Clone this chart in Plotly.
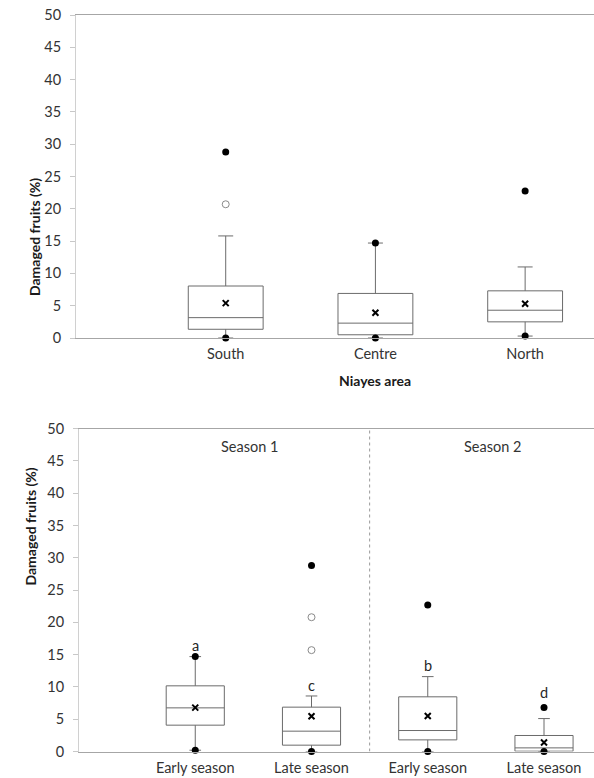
import plotly.graph_objects as go

# ---------------- data ----------------
# Top chart: Niayes area
area_cats = ["South", "Centre", "North"]
area_q1 = [1.35, 0.5, 2.5]
area_median = [3.15, 2.3, 4.3]
area_q3 = [8.05, 6.9, 7.3]
area_low = [0.0, 0.0, 0.3]
area_high = [15.8, 14.7, 11.0]
area_mean = [5.4, 3.9, 5.3]
area_minmax = [[0.0, 28.8], [0.0, 14.7], [0.3, 22.75]]
area_outliers = [[20.7], [], []]

# Bottom chart: seasons
season_cats = ["Early season", "Late season", "Early season", "Late season"]
season_q1 = [4.08, 0.98, 1.8, 0.05]
season_median = [6.76, 3.15, 3.25, 0.56]
season_q3 = [10.17, 6.87, 8.47, 2.48]
season_low = [0.2, 0.0, 0.0, 0.0]
season_high = [14.7, 8.6, 11.6, 5.1]
season_mean = [6.8, 5.47, 5.5, 1.4]
season_minmax = [[0.2, 14.7], [0.0, 28.8], [0.0, 22.7], [0.0, 6.8]]
season_outliers = [[], [15.7, 20.8], [], []]
season_letters = ["a", "c", "b", "d"]
season_letter_y = [16.4, 10.3, 13.3, 9.1]
season_groups = ["Season 1", "Season 2"]

y_ticks = [0, 5, 10, 15, 20, 25, 30, 35, 40, 45, 50]

# ---------------- styling ----------------
W, H = 594, 778
FONT = "Lato"
TICK_COL = "#333333"
BOX_COL = "#6b6b6b"

fig = go.Figure()


def add_panel(xa, ya, q1, med, q3, low, high, mean, minmax, outl):
    xs = list(range(len(q1)))
    fig.add_trace(go.Box(
        x=xs, q1=q1, median=med, q3=q3, lowerfence=low, upperfence=high,
        xaxis=xa, yaxis=ya, width=0.5, whiskerwidth=0.2,
        fillcolor="white", line=dict(color=BOX_COL, width=1),
        boxpoints=False, showlegend=False, hoverinfo="skip"))
    fig.add_trace(go.Scatter(
        x=xs, y=mean, mode="markers", xaxis=xa, yaxis=ya, cliponaxis=False,
        marker=dict(symbol="x-thin", size=6, line=dict(color="black", width=2)),
        showlegend=False, hoverinfo="skip"))
    dx, dy = [], []
    for i, vals in enumerate(minmax):
        for v in vals:
            dx.append(i)
            dy.append(v)
    fig.add_trace(go.Scatter(
        x=dx, y=dy, mode="markers", xaxis=xa, yaxis=ya, cliponaxis=False,
        marker=dict(symbol="circle", size=7, color="black"),
        showlegend=False, hoverinfo="skip"))
    ox, oy = [], []
    for i, vals in enumerate(outl):
        for v in vals:
            ox.append(i)
            oy.append(v)
    fig.add_trace(go.Scatter(
        x=ox, y=oy, mode="markers", xaxis=xa, yaxis=ya, cliponaxis=False,
        marker=dict(symbol="circle-open", size=7, color="#8a8a8a", line=dict(width=1)),
        showlegend=False, hoverinfo="skip"))


add_panel("x", "y", area_q1, area_median, area_q3, area_low, area_high,
          area_mean, area_minmax, area_outliers)
add_panel("x2", "y2", season_q1, season_median, season_q3, season_low, season_high,
          season_mean, season_minmax, season_outliers)

top_y = [(H - 338) / H, (H - 15) / H]
bot_y = [(H - 751.5) / H, (H - 428.7) / H]

yax = dict(range=[0, 50], tickvals=y_ticks, ticks="outside", ticklen=5,
           tickcolor="#c8c8c8", showline=True, linecolor="#d0d0d0", linewidth=1,
           showgrid=False, zeroline=False, ticklabelstandoff=6, automargin=False,
           tickfont=dict(family=FONT, size=14.5, color=TICK_COL))
xax = dict(showgrid=False, zeroline=False, showline=True, linecolor="#a6a6a6",
           linewidth=1, mirror=True, ticks="", ticklabelstandoff=3, automargin=False,
           tickfont=dict(family=FONT, size=14.5, color=TICK_COL))

fig.update_layout(
    width=W, height=H, margin=dict(l=0, r=0, t=0, b=0, autoexpand=False),
    paper_bgcolor="white", plot_bgcolor="white",
    xaxis=dict(xax, domain=[76 / W, 1], range=[-1.0, 2.46],
               tickvals=list(range(len(area_cats))), ticktext=area_cats, anchor="y"),
    yaxis=dict(yax, domain=top_y, anchor="x"),
    xaxis2=dict(xax, domain=[79 / W, 1], range=[-1.0, 3.43],
                tickvals=list(range(len(season_cats))), ticktext=season_cats, anchor="y2"),
    yaxis2=dict(yax, domain=bot_y, anchor="x2"),
)

# separator between seasons
fig.add_shape(type="line", xref="x2", yref="y2", x0=1.5, x1=1.5, y0=0, y1=50,
              line=dict(color="#9a9a9a", width=1, dash="dot"))

ann = []
for i, (t, yv) in enumerate(zip(season_letters, season_letter_y)):
    ann.append(dict(x=i, y=yv, xref="x2", yref="y2", text=t, showarrow=False,
                    font=dict(family=FONT, size=14.5, color="#262626")))
for gx, g in zip([0.47, 2.555], season_groups):
    ann.append(dict(x=gx, y=47.2, xref="x2", yref="y2", text=g, showarrow=False,
                    font=dict(family=FONT, size=14.5, color="#333333")))
# axis titles
ann.append(dict(x=24 / W, y=(H - 176.5) / H, xref="paper", yref="paper",
                text="<b>Damaged fruits (%)</b>", textangle=-90, showarrow=False,
                font=dict(family=FONT, size=14, color="#1a1a1a")))
ann.append(dict(x=19 / W, y=(H - 588) / H, xref="paper", yref="paper",
                text="<b>Damaged fruits (%)</b>", textangle=-90, showarrow=False,
                font=dict(family=FONT, size=14, color="#1a1a1a")))
ann.append(dict(x=375 / W, y=(H - 380) / H, xref="paper", yref="paper",
                text="<b>Niayes area</b>", showarrow=False,
                font=dict(family=FONT, size=14, color="#1a1a1a")))
fig.update_layout(annotations=ann)

fig.write_html("out.html")
